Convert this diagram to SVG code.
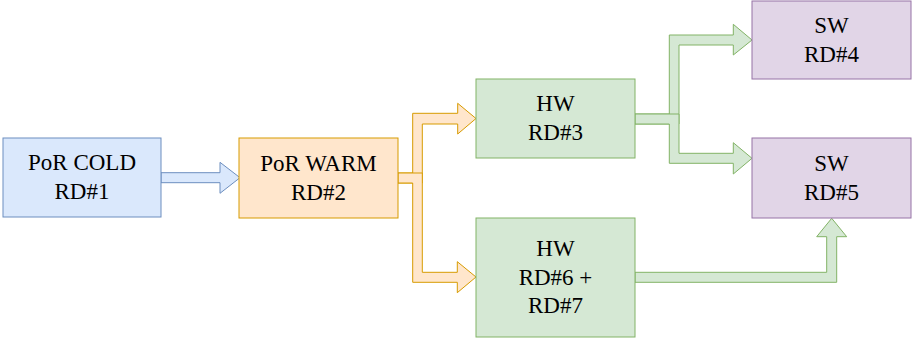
<svg xmlns="http://www.w3.org/2000/svg" width="913" height="339" viewBox="0 0 913 339">
<style>
.lbl{font-size:23px;fill:#000;text-anchor:middle}
.blue{fill:#dae8fc;stroke:#6c8ebf;stroke-width:1}
.orange{fill:#ffe6cc;stroke:#d79b00;stroke-width:1}
.green{fill:#d5e8d4;stroke:#82b366;stroke-width:1}
.purple{fill:#e1d5e7;stroke:#9673a6;stroke-width:1}
</style>
<rect width="913" height="339" fill="#fff"/>
<g id="connectors" stroke-linejoin="miter">
<polygon class="blue" points="161,172.7 220,172.7 220,162.3 240,177.7 220,193.3 220,182.7 161,182.7"/>
<polygon class="orange" points="398,173 412.7,173 412.7,113.3 457.7,113.3 457.7,103.3 476,118.5 457.7,134 457.7,124 422.3,124 422.3,183 398,183"/>
<polygon class="orange" points="398,173 422.3,173 422.3,272.3 457.3,272.3 457.3,261.7 476,277 457.3,292.7 457.3,282.3 412.7,282.3 412.7,183 398,183"/>
<polygon class="green" points="635,114 669.3,114 669.3,35 733.3,35 733.3,24.3 752,40 733.3,55 733.3,45 679,45 679,124 635,124"/>
<polygon class="green" points="635,114 679,114 679,153.3 733.3,153.3 733.3,142.7 752,158.3 733.3,174 733.3,163.3 669.3,163.3 669.3,124 635,124"/>
<polygon class="green" points="635,272.3 826.7,272.3 826.7,236.7 816.7,236.7 831.7,218.3 846.7,236.7 836.7,236.7 836.7,282.3 635,282.3"/>
</g>
<g font-family="'Liberation Serif', 'Times New Roman', serif">
<g id="node1">
<rect class="blue" x="3" y="138" width="158" height="79"/>
<text class="lbl" x="82" y="170.2" font-family="Liberation Serif">PoR COLD</text>
<text class="lbl" x="82" y="199.2" font-family="Liberation Serif">RD#1</text>
</g>
<g id="node2">
<rect class="orange" x="239" y="138" width="159" height="80"/>
<text class="lbl" x="318.5" y="170.7" font-family="Liberation Serif">PoR WARM</text>
<text class="lbl" x="318.5" y="199.7" font-family="Liberation Serif">RD#2</text>
</g>
<g id="node3">
<rect class="green" x="476" y="79" width="159" height="79"/>
<text class="lbl" x="555.5" y="111.2" font-family="Liberation Serif">HW</text>
<text class="lbl" x="555.5" y="140.2" font-family="Liberation Serif">RD#3</text>
</g>
<g id="node4">
<rect class="purple" x="752" y="1" width="159" height="78"/>
<text class="lbl" x="831.5" y="32.7" font-family="Liberation Serif">SW</text>
<text class="lbl" x="831.5" y="61.7" font-family="Liberation Serif">RD#4</text>
</g>
<g id="node5">
<rect class="purple" x="752" y="138" width="159" height="80"/>
<text class="lbl" x="831.5" y="170.7" font-family="Liberation Serif">SW</text>
<text class="lbl" x="831.5" y="199.7" font-family="Liberation Serif">RD#5</text>
</g>
<g id="node6">
<rect class="green" x="476" y="218" width="159" height="119"/>
<text class="lbl" x="555.5" y="255.7" font-family="Liberation Serif">HW</text>
<text class="lbl" x="555.5" y="284.5" font-family="Liberation Serif">RD#6 +</text>
<text class="lbl" x="555.5" y="313.3" font-family="Liberation Serif">RD#7</text>
</g>
</g>
</svg>
